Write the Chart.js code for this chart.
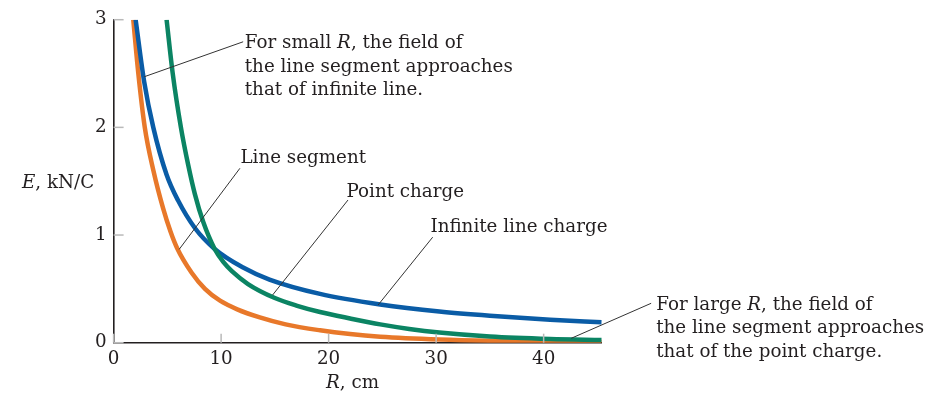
<!DOCTYPE html>
<html>
<head>
<meta charset="utf-8">
<script src="https://cdn.jsdelivr.net/npm/chart.js@4.4.1/dist/chart.umd.min.js"></script>
<style>
  html, body { margin: 0; padding: 0; background: #fff; }
  #wrap { width: 926px; height: 398px; position: relative; }
</style>
</head>
<body>
<div id="wrap"><canvas id="myCanvas"></canvas></div>
<script>
// values: R in cm, E in kN/C
const blueR = [2.05, 2.85, 3.69, 4.93, 6.0, 7.56, 9.4, 12, 14.5, 19.2, 24.8, 30.3, 35, 40.6, 45.4];
const blueE = [3.0, 2.42, 2.0, 1.56, 1.32, 1.065, 0.87, 0.70, 0.586, 0.453, 0.355, 0.289, 0.25, 0.214, 0.19];

const greenR = [4.93, 5.5, 6.26, 6.94, 7.56, 8.34, 9.4, 10.2, 11, 12.5, 15, 17, 19.2, 22, 24.8, 27.5, 30.3, 35, 40.6, 45.4];
const greenE = [3.0, 2.5, 2.0, 1.65, 1.38, 1.12, 0.87, 0.75, 0.665, 0.545, 0.415, 0.345, 0.285, 0.225, 0.17, 0.128, 0.095, 0.058, 0.035, 0.025];

const orangeR = [1.83, 2.3, 2.9, 3.7, 4.6, 5.3, 5.9, 7.26, 8.5, 9.9, 11.5, 13.6, 16, 19.2, 22, 24.8, 30.3, 35, 40.6, 45.4];
const orangeE = [3.0, 2.5, 2.0, 1.6, 1.25, 1.03, 0.88, 0.65, 0.5, 0.39, 0.31, 0.235, 0.17, 0.115, 0.08, 0.056, 0.03, 0.018, 0.011, 0.007];

const xTicks = [0, 10, 20, 30, 40];
const yTicks = [0, 1, 2, 3];

// callouts: text anchor and leader tip, both in data units
const notes = [
  { lines: ['For small |R|, the field of', 'the line segment approaches', 'that of infinite line.'], at: [12.2, 2.78], from: [12.05, 2.795], to: [2.85, 2.47] },
  { lines: ['Line segment'], at: [11.8, 1.71], from: [11.75, 1.62], to: [6.1, 0.867] },
  { lines: ['Point charge'], at: [21.66, 1.40], from: [21.8, 1.325], to: [14.79, 0.443] },
  { lines: ['Infinite line charge'], at: [29.47, 1.07], from: [29.68, 0.98], to: [24.6, 0.35] },
  { lines: ['For large |R|, the field of', 'the line segment approaches', 'that of the point charge.'], at: [50.47, 0.35], from: [50.0, 0.366], to: [42.57, 0.041] }
];

const FONT = '"DejaVu Serif", "Liberation Serif", serif';
const SIZE = 18.3;
const INK = '#231f20';

function pts(xs, ys) {
  return xs.map((x, i) => ({ x: x, y: ys[i] }));
}

// draws text where |...| marks italic parts
function richText(ctx, str, x, y) {
  const parts = str.split('|');
  let cx = x;
  parts.forEach((p, i) => {
    ctx.font = (i % 2 ? 'italic ' : '') + SIZE + 'px ' + FONT;
    ctx.fillText(p, cx, y);
    cx += ctx.measureText(p).width;
  });
}

const decor = {
  id: 'decor',
  afterDatasetsDraw(chart) {
    const ctx = chart.ctx;
    const xs = chart.scales.x, ys = chart.scales.y;
    const area = chart.chartArea;
    ctx.save();
    // inner tick marks
    ctx.strokeStyle = '#b9b9b9';
    ctx.lineWidth = 1.5;
    xTicks.forEach(v => {
      const px = xs.getPixelForValue(v);
      ctx.beginPath();
      ctx.moveTo(px, area.bottom);
      ctx.lineTo(px, area.bottom - 9);
      ctx.stroke();
    });
    yTicks.forEach(v => {
      const py = ys.getPixelForValue(v);
      ctx.beginPath();
      ctx.moveTo(area.left, py);
      ctx.lineTo(area.left + 10, py);
      ctx.stroke();
    });
    // callouts
    ctx.strokeStyle = '#333';
    ctx.lineWidth = 1;
    ctx.fillStyle = INK;
    ctx.textBaseline = 'middle';
    ctx.textAlign = 'left';
    notes.forEach(n => {
      ctx.beginPath();
      ctx.moveTo(xs.getPixelForValue(n.from[0]), ys.getPixelForValue(n.from[1]));
      ctx.lineTo(xs.getPixelForValue(n.to[0]), ys.getPixelForValue(n.to[1]));
      ctx.stroke();
      const tx = xs.getPixelForValue(n.at[0]);
      const ty = ys.getPixelForValue(n.at[1]);
      n.lines.forEach((l, i) => richText(ctx, l, tx, ty + i * 23.5));
    });
    // axis titles
    richText(ctx, '|E|, kN/C', 22, ys.getPixelForValue(1.48));
    richText(ctx, '|R|, cm', 326, area.bottom + 41);
    ctx.restore();
  }
};

function init() {
  const ctx = document.getElementById('myCanvas').getContext('2d');
  new Chart(ctx, {
    type: 'line',
    data: {
      datasets: [
        { label: 'green', data: pts(greenR, greenE), borderColor: '#0b8463', order: 1 },
        { label: 'blue', data: pts(blueR, blueE), borderColor: '#0a5ca6', order: 2 },
        { label: 'orange', data: pts(orangeR, orangeE), borderColor: '#e8782a', order: 3 }
      ].map(d => Object.assign(d, {
        borderWidth: 4.5,
        pointRadius: 0,
        fill: false,
        cubicInterpolationMode: 'monotone',
        borderCapStyle: 'butt'
      }))
    },
    options: {
      responsive: true,
      maintainAspectRatio: false,
      animation: false,
      events: [],
      layout: { padding: { top: 19.7, right: 324.3, left: 0, bottom: 0 } },
      plugins: { legend: { display: false }, tooltip: { enabled: false } },
      scales: {
        x: {
          type: 'linear',
          min: 0,
          max: 45.4,
          afterFit: s => { s.height = 55.3; },
          afterBuildTicks: s => { s.ticks = xTicks.map(v => ({ value: v })); },
          grid: { display: false, drawTicks: false, tickLength: 0 },
          border: { display: true, color: '#231f20', width: 1.6 },
          ticks: { padding: 6, color: INK, font: { family: FONT, size: SIZE }, maxRotation: 0 }
        },
        y: {
          type: 'linear',
          min: 0,
          max: 3,
          afterFit: s => { s.width = 113.6; },
          afterBuildTicks: s => { s.ticks = yTicks.map(v => ({ value: v })); },
          grid: { display: false, drawTicks: false, tickLength: 0 },
          border: { display: true, color: '#231f20', width: 1.6 },
          ticks: { padding: 7, color: INK, font: { family: FONT, size: SIZE } }
        }
      }
    },
    plugins: [decor]
  });
}

document.addEventListener('DOMContentLoaded', init);
</script>
</body>
</html>
